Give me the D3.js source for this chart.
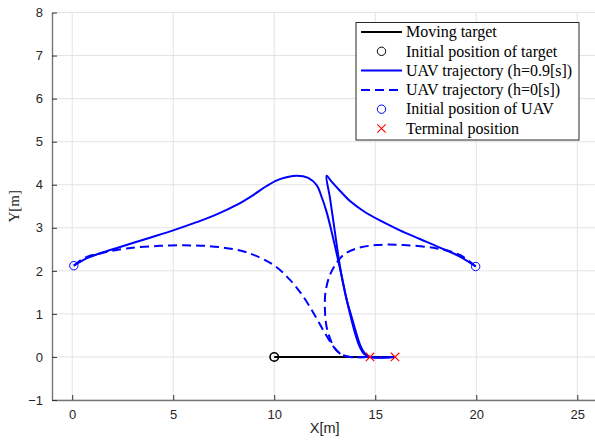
<!DOCTYPE html>
<html>
<head>
<meta charset="utf-8">
<script src="https://cdn.jsdelivr.net/npm/d3@7"></script>
<style>
  body { margin: 0; background: #fff; }
  svg { display: block; }
</style>
</head>
<body>
<div id="chart"></div>
<script>
// =============================================================
// DATA (in metres)

let targetPath = [ [10, 0], [16, 0] ];
let targetStart = [ [10, 0] ];

// UAV trajectories, h = 0.9 [s]
let uavLeftSolid = [
    [0.08, 2.12], [0.71, 2.29], [1.53, 2.43], [2.69, 2.6], [3.85, 2.77],
    [5.0, 2.94], [6.16, 3.13], [7.15, 3.31], [8.14, 3.53], [8.96, 3.76],
    [9.62, 3.97], [10.28, 4.13], [11.11, 4.21], [11.68, 4.16], [12.1, 3.99],
    [12.32, 3.75], [12.59, 3.37], [12.84, 2.91], [13.09, 2.4], [13.32, 1.92],
    [13.53, 1.45], [13.75, 1.0], [13.97, 0.6], [14.2, 0.27], [14.45, 0.07],
    [14.74, 0], [16.0, 0]
];
let uavRightSolid = [
    [19.97, 2.1], [19.19, 2.33], [18.2, 2.54], [17.21, 2.74], [16.22, 2.94],
    [15.23, 3.17], [14.41, 3.39], [13.75, 3.62], [13.25, 3.86], [12.84, 4.07],
    [12.59, 4.21], [12.76, 3.69], [13.0, 2.91], [13.22, 2.2], [13.4, 1.72],
    [13.6, 1.3], [13.8, 0.98], [14.02, 0.62], [14.25, 0.28], [14.49, 0.08],
    [14.74, 0], [16.0, 0]
];

// UAV trajectories, h = 0 [s]
let uavLeftDashed = [
    [0.08, 2.12], [0.6, 2.3], [1.53, 2.42], [2.69, 2.52], [4.34, 2.58],
    [5.99, 2.59], [7.31, 2.55], [8.63, 2.43], [9.95, 2.14], [10.78, 1.79],
    [11.44, 1.4], [11.97, 1.0], [12.39, 0.65], [12.76, 0.36], [13.09, 0.15],
    [13.42, 0.04], [13.75, 0], [14.74, 0]
];
let uavRightDashed = [
    [19.97, 2.1], [19.19, 2.37], [18.04, 2.52], [16.39, 2.6], [15.07, 2.6],
    [14.08, 2.52], [13.42, 2.37], [13.0, 2.12], [12.72, 1.86], [12.53, 1.48],
    [12.51, 1.09], [12.59, 0.7], [12.76, 0.43], [13.0, 0.2], [13.34, 0.05],
    [13.75, 0], [14.74, 0]
];

let uavStarts = [ [0.08, 2.12], [19.97, 2.1] ];
let terminals = [ [14.74, 0], [15.98, 0] ];

let xTicks = [0, 5, 10, 15, 20, 25];
let yTicks = [-1, 0, 1, 2, 3, 4, 5, 6, 7, 8];
let legendLabels = [ 'Moving target', 'Initial position of target',
                     'UAV trajectory (h=0.9[s])', 'UAV trajectory (h=0[s])',
                     'Initial position of UAV', 'Terminal position' ];

// =============================================================
// SETUP

let width = 595, height = 445;
let pLeft = 52, pRight = 597.5, pTop = 12.5, pBottom = 400;
let blue = '#0000ff';

let svg = d3.select('#chart')
            .append('svg')
            .attr('width', width)
            .attr('height', height);

let x_scale = d3.scaleLinear().domain([-1, 26]).range([pLeft, pRight]);
let y_scale = d3.scaleLinear().domain([-1, 8]).range([pBottom, pTop]);

// grid
svg.append('g')
   .selectAll('line')
   .data(xTicks)
   .enter()
   .append('line')
   .attr('x1', d => x_scale(d)).attr('x2', d => x_scale(d))
   .attr('y1', pTop).attr('y2', pBottom)
   .attr('stroke', '#e3e3e3');

svg.append('g')
   .selectAll('line')
   .data(yTicks)
   .enter()
   .append('line')
   .attr('x1', pLeft).attr('x2', pRight)
   .attr('y1', d => y_scale(d)).attr('y2', d => y_scale(d))
   .attr('stroke', '#e3e3e3');

// axes, ticks pointing inward like matlab
let x_axis = d3.axisBottom(x_scale)
               .tickValues(xTicks)
               .tickSizeInner(-5)
               .tickSizeOuter(0)
               .tickPadding(10);
let y_axis = d3.axisLeft(y_scale)
               .tickValues(yTicks)
               .tickSizeInner(-5)
               .tickSizeOuter(0)
               .tickPadding(9);

function styleAxis(g) {
    g.select('.domain').attr('stroke', '#777').attr('stroke-width', 1.4);
    g.selectAll('.tick line').attr('stroke', '#333');
    g.selectAll('.tick text')
     .attr('fill', '#262626')
     .style('font-family', '"Liberation Sans", Arial, sans-serif')
     .style('font-size', '13px');
}

svg.append('g')
   .attr('transform', 'translate(0,' + pBottom + ')')
   .call(x_axis)
   .call(styleAxis);

svg.append('g')
   .attr('transform', 'translate(' + pLeft + ',0)')
   .call(y_axis)
   .call(styleAxis);

// axis labels
svg.append('text')
   .attr('x', (pLeft + pRight) / 2)
   .attr('y', 433)
   .attr('text-anchor', 'middle')
   .attr('fill', '#262626')
   .style('font-family', '"Liberation Sans", Arial, sans-serif')
   .style('font-size', '14.5px')
   .text('X[m]');

svg.append('text')
   .attr('transform', 'translate(19,' + ((pTop + pBottom) / 2) + ') rotate(-90)')
   .attr('text-anchor', 'middle')
   .attr('fill', '#262626')
   .style('font-family', '"Liberation Serif", "Times New Roman", serif')
   .style('font-size', '15px')
   .text('Y[m]');

// =============================================================
// TRAJECTORIES

let line = d3.line()
             .x(d => x_scale(d[0]))
             .y(d => y_scale(d[1]))
             .curve(d3.curveCatmullRom.alpha(0.5));

let plot = svg.append('g');

plot.append('path').datum(targetPath)
    .attr('d', line).attr('fill', 'none')
    .attr('stroke', '#000').attr('stroke-width', 2);

[uavLeftSolid, uavRightSolid].forEach(function (p) {
    plot.append('path').datum(p)
        .attr('d', line).attr('fill', 'none')
        .attr('stroke', blue).attr('stroke-width', 2)
        .attr('stroke-linejoin', 'round');
});

[uavLeftDashed, uavRightDashed].forEach(function (p) {
    plot.append('path').datum(p)
        .attr('d', line).attr('fill', 'none')
        .attr('stroke', blue).attr('stroke-width', 2)
        .attr('stroke-dasharray', '9,5');
});

function drawCircles(data, colour) {
    plot.append('g')
        .selectAll('circle')
        .data(data)
        .enter()
        .append('circle')
        .attr('cx', d => x_scale(d[0]))
        .attr('cy', d => y_scale(d[1]))
        .attr('r', 4.2)
        .attr('fill', 'none')
        .attr('stroke', colour)
        .attr('stroke-width', colour == '#000' ? 1.6 : 1);
}

function crossPath(cx, cy, s) {
    return 'M' + (cx - s) + ',' + (cy - s) + 'L' + (cx + s) + ',' + (cy + s) +
           'M' + (cx - s) + ',' + (cy + s) + 'L' + (cx + s) + ',' + (cy - s);
}

drawCircles(targetStart, '#000');
drawCircles(uavStarts, blue);

plot.append('g')
    .selectAll('path')
    .data(terminals)
    .enter()
    .append('path')
    .attr('d', d => crossPath(x_scale(d[0]), y_scale(d[1]), 4.2))
    .attr('fill', 'none')
    .attr('stroke', '#ff0000')
    .attr('stroke-width', 1.1);

// =============================================================
// LEGEND

let lg = svg.append('g');
let lgX = 356, lgY = 22.5, lgW = 223, lgH = 117.5, rowH = 19.3;

lg.append('rect')
  .attr('x', lgX).attr('y', lgY)
  .attr('width', lgW).attr('height', lgH)
  .attr('fill', '#fff')
  .attr('stroke', '#262626')
  .attr('stroke-width', 1);

let rows = lg.selectAll('g.row')
             .data(legendLabels)
             .enter()
             .append('g')
             .attr('class', 'row')
             .attr('transform', (d, i) => 'translate(0,' + (lgY + 9.5 + i * rowH) + ')');

rows.append('text')
    .attr('x', 406)
    .attr('y', 0)
    .attr('dy', '0.33em')
    .attr('fill', '#000')
    .style('font-family', '"Liberation Serif", "Times New Roman", serif')
    .style('font-size', '16px')
    .text(d => d);

rows.each(function (d, i) {
    let r = d3.select(this);
    if (i == 0 || i == 2 || i == 3) {
        r.append('line')
         .attr('x1', 361).attr('x2', 402)
         .attr('y1', 0).attr('y2', 0)
         .attr('stroke', i == 0 ? '#000' : blue)
         .attr('stroke-width', 2)
         .attr('stroke-dasharray', i == 3 ? '9,5' : null);
    } else if (i == 1 || i == 4) {
        r.append('circle')
         .attr('cx', 381.5).attr('cy', 0).attr('r', 4.2)
         .attr('fill', 'none')
         .attr('stroke', i == 1 ? '#000' : blue)
         .attr('stroke-width', 1);
    } else {
        r.append('path')
         .attr('d', crossPath(381.5, 0, 4.2))
         .attr('fill', 'none')
         .attr('stroke', '#ff0000')
         .attr('stroke-width', 1.1);
    }
});
</script>
</body>
</html>
